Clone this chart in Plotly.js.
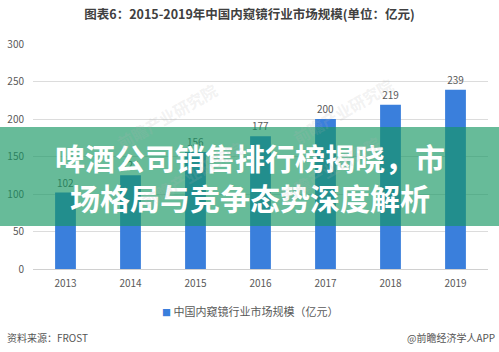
<!DOCTYPE html>
<html>
<head>
<meta charset="utf-8">
<script src="https://cdn.plot.ly/plotly-3.0.1.min.js"></script>
<style>html,body{margin:0;padding:0;background:#fff;}#chart{width:499px;height:352px;}</style>
</head>
<body>
<div id="chart"></div>
<script>
const years = ['2013', '2014', '2015', '2016', '2017', '2018', '2019'];
const marketSize = [102, 125, 156, 177, 200, 219, 239];
const seriesName = '中国内窥镜行业市场规模（亿元）';
const chartTitle = '图表6：2015-2019年中国内窥镜行业市场规模(单位：亿元)';
const headlineLines = ['啤酒公司销售排行榜揭晓，市', '场格局与竞争态势深度解析'];
const sourceText = '资料来源：FROST';
const brandText = '@前瞻经济学人APP';
const watermark = '前瞻产业研究院';

const FONT = '"Noto Sans CJK SC", "Microsoft YaHei", sans-serif';
const BAR = '#3a7fdc';
const L = 33, W = 455, T = 44, H = 225;
const px = x => (x - L) / W;
const py = y => (T + H - y) / H;

const annotations = [
  {text: headlineLines[0], xref: 'paper', yref: 'paper', x: px(250), y: py(157), showarrow: false,
   font: {family: FONT, size: 30, color: '#ffffff', weight: 'bold'}, xanchor: 'center', yanchor: 'middle'},
  {text: headlineLines[1], xref: 'paper', yref: 'paper', x: px(250), y: py(197), showarrow: false,
   font: {family: FONT, size: 30, color: '#ffffff', weight: 'bold'}, xanchor: 'center', yanchor: 'middle'},
  {text: '<span style="color:' + BAR + ';font-size:9px">■</span> ' + seriesName, xref: 'paper', yref: 'paper',
   x: px(250), y: py(311), showarrow: false,
   font: {family: FONT, size: 11, color: '#595959'}, xanchor: 'center', yanchor: 'middle'},
  {text: sourceText, xref: 'paper', yref: 'paper', x: px(5), y: py(337), showarrow: false,
   font: {family: FONT, size: 10, color: '#555555'}, xanchor: 'left', yanchor: 'middle'},
  {text: brandText, xref: 'paper', yref: 'paper', x: px(497), y: py(337), showarrow: false,
   font: {family: FONT, size: 10, color: '#555555'}, xanchor: 'right', yanchor: 'middle'}
];
[[110, 75], [400, 70], [135, 215], [330, 210]].forEach(p => {
  annotations.push({text: watermark, xref: 'paper', yref: 'paper', x: px(p[0]), y: py(p[1]), showarrow: false,
    textangle: -30, font: {family: FONT, size: 16, color: 'rgba(180,180,180,0.18)', weight: 'bold'}});
});

const data = [{
  type: 'bar', x: years, y: marketSize, name: seriesName,
  marker: {color: BAR},
  text: marketSize.map(String), textposition: 'outside', cliponaxis: false,
  textfont: {family: FONT, size: 10, color: '#595959'},
  hoverinfo: 'none', showlegend: false
}];

const layout = {
  width: 499, height: 352,
  margin: {l: L, r: 499 - L - W, t: T, b: 352 - T - H},
  paper_bgcolor: '#ffffff', plot_bgcolor: '#ffffff',
  font: {family: FONT, color: '#595959'},
  title: {text: chartTitle, x: 0.5, xanchor: 'center', xref: 'container', y: 1 - 15 / 352, yanchor: 'middle', yref: 'container',
    font: {family: FONT, size: 12.5, color: '#404040', weight: 'bold'}},
  bargap: 0.68,
  xaxis: {type: 'category', showgrid: false, zeroline: false, showline: false, ticks: '',
    ticklabelstandoff: 7,
    tickfont: {family: FONT, size: 10, color: '#595959'}},
  yaxis: {range: [0, 300], dtick: 50, showgrid: true, gridcolor: '#dcdcdc', gridwidth: 1, zeroline: true,
    zerolinecolor: '#d0d0d0', showline: false, ticks: '', ticklen: 0, ticklabelstandoff: 8,
    tickfont: {family: FONT, size: 10, color: '#595959'}},
  showlegend: false,
  shapes: [{type: 'rect', xref: 'paper', yref: 'paper', x0: px(-2), x1: px(501), y0: py(226), y1: py(127),
    fillcolor: 'rgba(22,150,98,0.65)', line: {width: 0}, layer: 'above'}],
  annotations: annotations
};

Plotly.newPlot('chart', data, layout, {displayModeBar: false, staticPlot: true});
</script>
</body>
</html>
